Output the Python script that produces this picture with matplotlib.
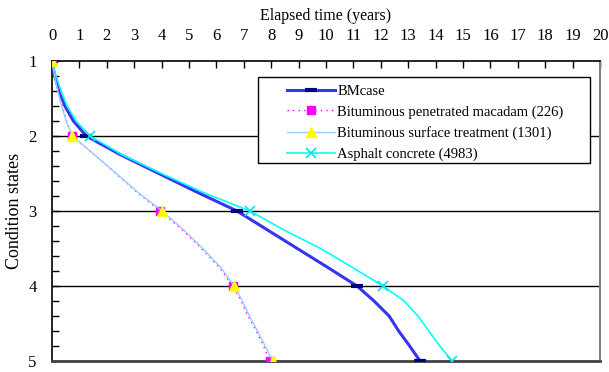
import matplotlib
matplotlib.use("Agg")
import matplotlib.pyplot as plt
from matplotlib.ticker import MultipleLocator
from matplotlib.patches import Rectangle

plt.rcParams['font.family'] = ['Liberation Serif', 'DejaVu Serif']

# Condition states (y) and elapsed years (x)
states = [1.0, 1.2, 1.4, 1.6, 1.8, 2.0, 2.25, 2.5, 2.75, 3.0, 3.25, 3.5, 3.75, 4.0, 4.2, 4.4, 4.6, 4.8, 5.0]
bmcase_t = [0.0, 0.1, 0.26, 0.47, 0.78, 1.25, 2.5, 3.9, 5.3, 6.75, 7.85, 8.95, 10.05, 11.13, 11.75, 12.3, 12.65, 13.05, 13.43]
macadam_t = [0.0, 0.12, 0.25, 0.38, 0.53, 0.73, 1.55, 2.33, 3.1, 3.95, 4.75, 5.45, 6.1, 6.6, 6.9, 7.15, 7.45, 7.72, 7.95]
surface_t = [0.0, 0.09, 0.21, 0.35, 0.52, 0.74, 1.55, 2.35, 3.13, 4.02, 4.8, 5.5, 6.15, 6.65, 6.95, 7.2, 7.5, 7.78, 8.05]
asphalt_t = [0.0, 0.15, 0.33, 0.55, 0.88, 1.39, 2.55, 3.99, 5.5, 7.22, 8.45, 9.8, 10.95, 12.08, 12.85, 13.35, 13.75, 14.15, 14.6]

labels = ["BMcase", "Bituminous penetrated macadam (226)",
          "Bituminous surface treatment (1301)", "Asphalt concrete (4983)"]

mark_idx = [i for i, s in enumerate(states) if abs(s - round(s)) < 1e-9]

fig = plt.figure(figsize=(6.09, 3.72), dpi=100)
ax = fig.add_axes([0.0854, 0.0296, 0.9, 0.8064])

for yv in [2, 3, 4]:
    ax.axhline(yv, color='black', lw=1.0, zorder=1)

ax.plot(bmcase_t, states, color='#3535ee', lw=2.2, marker='_', ms=8, mew=3,
        mec='#000080', markevery=mark_idx, label=labels[0], zorder=3)
ax.plot(macadam_t, states, color='#ff00ff', lw=1.0, ls=(0, (1, 3)), marker='s', ms=6,
        mfc='#ff00ff', mec='#ff00ff', markevery=mark_idx, label=labels[1], zorder=4)
ax.plot(surface_t, states, color='#99ccff', lw=1.0, marker='^', ms=7,
        mfc='#ffff00', mec='#ffff00', markevery=mark_idx, label=labels[2], zorder=5)
ax.plot(asphalt_t, states, color='#00ffff', lw=1.2, marker='x', ms=7, mew=1.2,
        mec='#00e5ee', markevery=mark_idx, label=labels[3], zorder=3)

ax.set_xlim(0, 20)
ax.set_ylim(5, 1)
ax.xaxis.set_major_locator(MultipleLocator(1))
ax.yaxis.set_major_locator(MultipleLocator(1))
ax.yaxis.set_minor_locator(MultipleLocator(0.2))
ax.xaxis.tick_top()
ax.xaxis.set_label_position('top')
ax.tick_params(axis='x', direction='in', length=5, width=1, labelsize=12, pad=12.5, top=True, bottom=False)
ax.tick_params(axis='y', which='major', direction='in', length=5, width=1, labelsize=12, pad=11)
ax.tick_params(axis='y', which='minor', direction='in', length=5, width=1)
ax.set_xlabel("Elapsed time (years)", fontsize=11.5, labelpad=5.5)
ax.set_ylabel("Condition states", fontsize=13, labelpad=4)

for s in ['top', 'left']:
    ax.spines[s].set_color('black')
    ax.spines[s].set_linewidth(1.2)
ax.spines['right'].set_color('#808080')
ax.spines['right'].set_linewidth(1.5)
ax.spines['bottom'].set_color('#404040')
ax.spines['bottom'].set_linewidth(2)

# legend frame
frame = Rectangle((0.376, 0.66), 0.606, 0.287, transform=ax.transAxes,
                  facecolor='white', edgecolor='black', lw=1.0, zorder=6)
ax.add_patch(frame)

leg = ax.legend(loc='upper left', bbox_to_anchor=(0.429, 0.922), fontsize=10.5,
                frameon=False, handlelength=3.3, labelspacing=0.52, borderpad=0.0,
                handletextpad=0.15, borderaxespad=0)
leg.set_zorder(7)

fig.savefig("out.png", dpi=100)
